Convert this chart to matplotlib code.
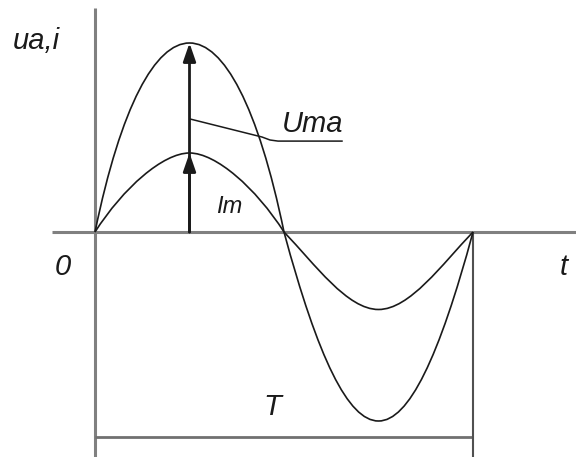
import numpy as np
import matplotlib
matplotlib.use("Agg")
import matplotlib.pyplot as plt
from matplotlib.path import Path
from matplotlib.patches import PathPatch, FancyArrowPatch

# ---- data (time in units of the period T, values relative to U_m) ----
T = 1.0
zero_crossings = [0.0, 0.5, 1.0]      # t where both curves cross zero
u_peaks = [1.0, -1.0]                 # anode voltage u_a: +U_ma, -U_ma
i_peaks = [0.418, -0.41]              # current i: +I_m, -I_m

label_y = "ua,i"
label_x = "t"
label_U = "Uma"
label_I = "Im"
label_0 = "0"
label_T = "T"

FONT = ["Liberation Sans", "DejaVu Sans"]
INK = "#1a1a1a"
AXIS_GREY = "#808080"

# Bezier arch shape (styling of the hand-drawn half waves): (alpha, beta, gamma)
U_SHAPE = [(0.275, 0.667, 0.362), (0.36, 0.667, 0.32)]
I_SHAPE = [(0.30, 0.56, 0.28), (0.33, 0.42, 0.33)]


def wave_path(crossings, peaks, shapes):
    verts = [(crossings[0], 0.0)]
    codes = [Path.MOVETO]
    for k, A in enumerate(peaks):
        ta, tb = crossings[k], crossings[k + 1]
        tm = 0.5 * (ta + tb)
        Q = tm - ta
        al, be, ga = shapes[k]
        verts += [(ta + al * Q, be * A), (tm - ga * Q, A), (tm, A),
                  (tm + ga * Q, A), (tb - al * Q, be * A), (tb, 0.0)]
        codes += [Path.CURVE4] * 6
    return Path(verts, codes)


fig = plt.figure(figsize=(5.76, 4.57), dpi=100)
ax = fig.add_axes([0, 0, 1, 1])
ax.set_xlim(-95 / 378, 481 / 378)
ax.set_ylim(-225 / 189, 232 / 189)
ax.axis("off")

# coordinate axes
ax.plot([0, 0], [-1.3, 1.185], color=AXIS_GREY, lw=2.2, solid_capstyle="butt", zorder=1)
ax.plot([-0.114, 1.4], [0, 0], color=AXIS_GREY, lw=2.2, solid_capstyle="butt", zorder=1)
# period marker
ax.plot([0, T], [-1.085, -1.085], color="#707070", lw=2.0, solid_capstyle="butt", zorder=1)
ax.plot([T, T], [0, -1.3], color="#505050", lw=1.5, solid_capstyle="butt", zorder=1)

# curves
ax.add_patch(PathPatch(wave_path(zero_crossings, u_peaks, U_SHAPE), fill=False,
                       edgecolor=INK, lw=1.2, zorder=3))
ax.add_patch(PathPatch(wave_path(zero_crossings, i_peaks, I_SHAPE), fill=False,
                       edgecolor=INK, lw=1.2, zorder=3))

# amplitude arrows
for amp in (u_peaks[0], i_peaks[0]):
    ax.add_patch(FancyArrowPatch((T / 4, 0), (T / 4, amp),
                                 arrowstyle="-|>,head_length=1.1,head_width=0.38",
                                 mutation_scale=10, shrinkA=0, shrinkB=0,
                                 color=INK, lw=2.0, zorder=4))

# leader line for U_ma
lead_x = [0.2513, 0.4418, 0.4630, 0.4841, 0.6534]
lead_y = [0.598, 0.5026, 0.4868, 0.481, 0.481]
ax.plot(lead_x, lead_y, color=INK, lw=1.1, zorder=3)

# labels
kw = dict(family=FONT, style="italic", color=INK)
ax.text(-0.2169, 0.968, label_y, fontsize=21, ha="left", va="baseline", **kw)
ax.text(0.4947, 0.529, label_U, fontsize=21, ha="left", va="baseline", **kw)
ax.text(0.320, 0.1005, label_I, fontsize=17, ha="left", va="baseline", **kw)
ax.text(-0.0847, -0.2275, label_0, fontsize=21, ha="center", va="baseline", **kw)
ax.text(0.468, -0.968, label_T, fontsize=21, ha="center", va="baseline", **kw)
ax.text(1.2407, -0.2275, label_x, fontsize=21, ha="center", va="baseline", **kw)

fig.savefig("out.png", dpi=100, facecolor="white")
